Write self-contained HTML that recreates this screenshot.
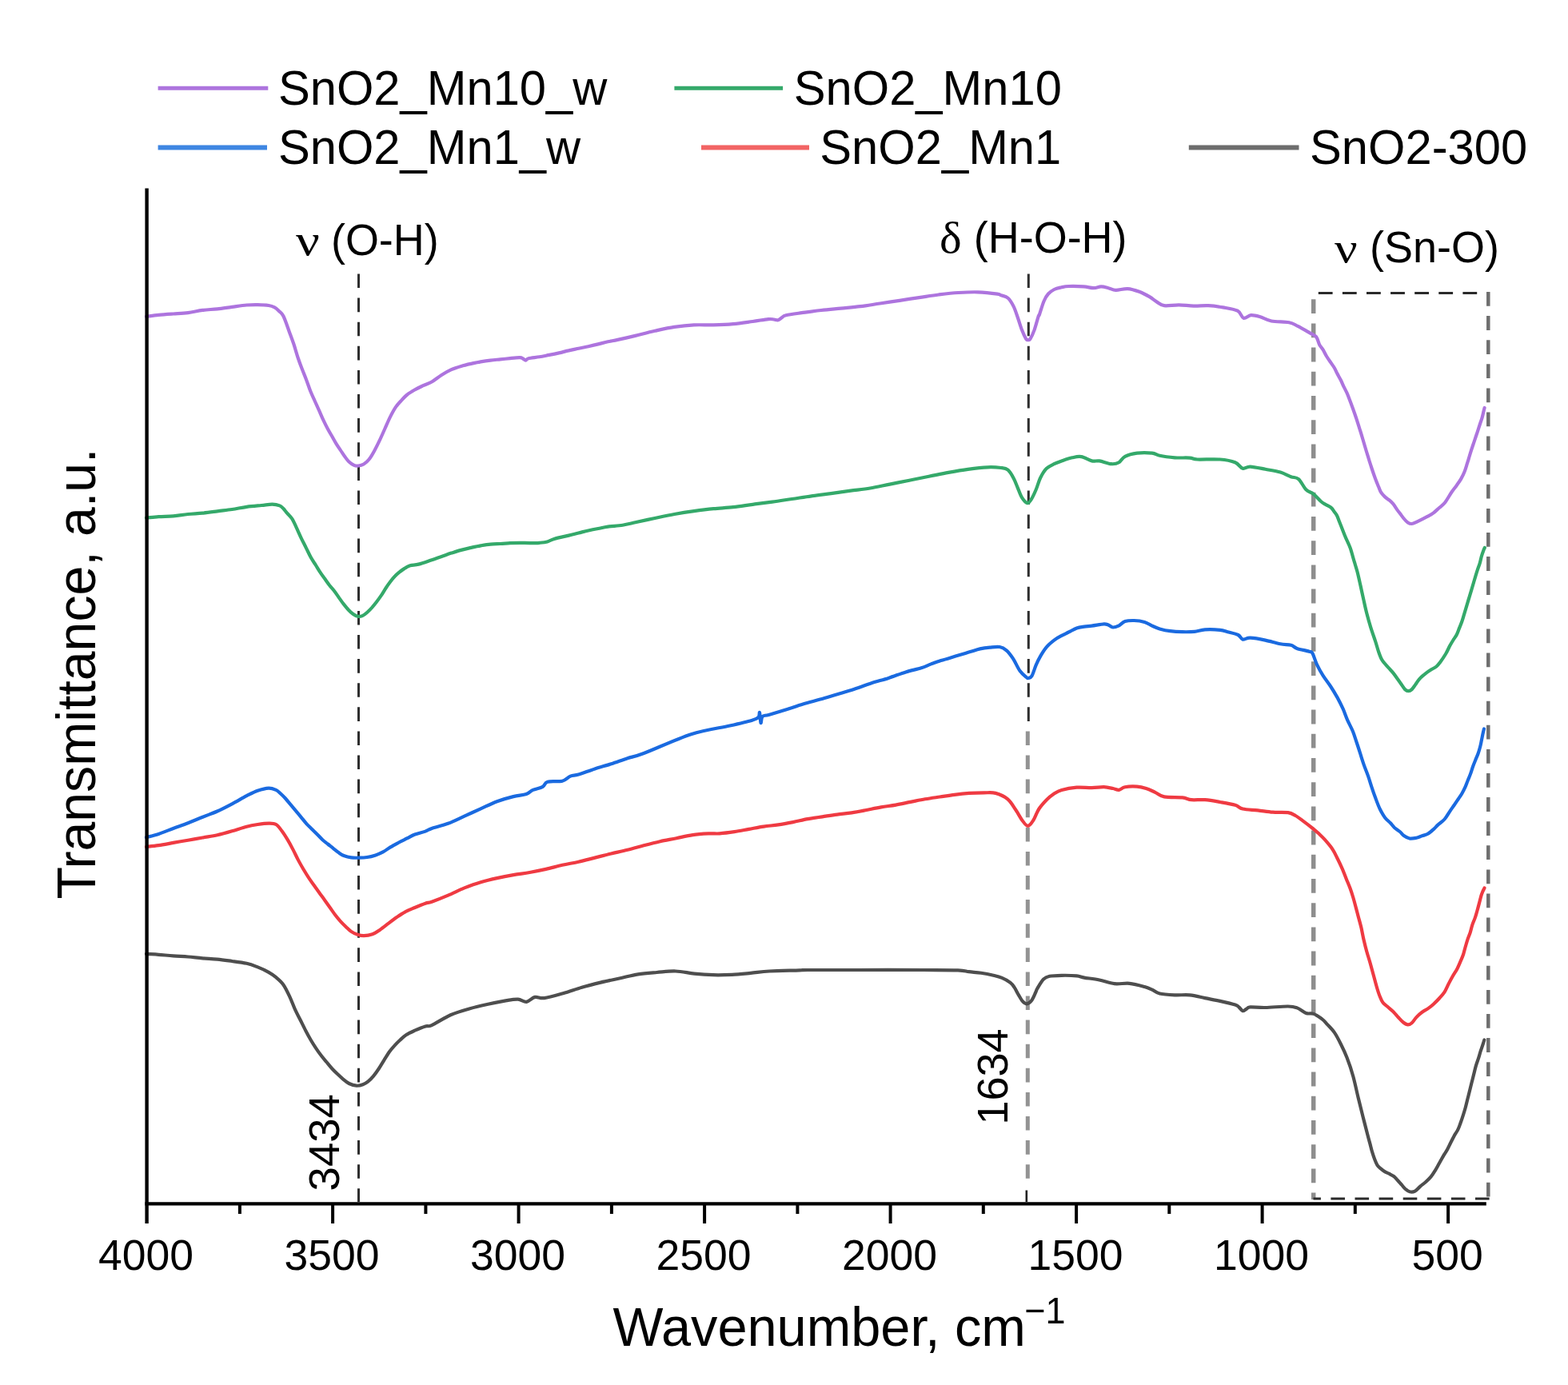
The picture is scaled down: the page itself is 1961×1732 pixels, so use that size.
<!DOCTYPE html>
<html><head><meta charset="utf-8"><title>FTIR spectra</title>
<style>
html,body{margin:0;padding:0;background:#fff;}
body{width:1961px;height:1732px;overflow:hidden;}
svg{display:block;}
text{font-family:"Liberation Sans",Arial,sans-serif;fill:#000;}
.gr{font-family:"Liberation Serif","Times New Roman",serif;}
</style></head><body>
<svg xmlns="http://www.w3.org/2000/svg" width="1961" height="1732" viewBox="0 0 1961 1732">
<rect width="1961" height="1732" fill="#fff"/>
<g stroke-linecap="butt">
<line x1="197.6" y1="110.3" x2="335.3" y2="110.3" stroke="#ad74de" stroke-width="5"/>
<line x1="843.4" y1="110.3" x2="979.1" y2="110.3" stroke="#34a96a" stroke-width="5"/>
<line x1="197.6" y1="184.5" x2="334" y2="184.5" stroke="#3e86e2" stroke-width="6"/>
<line x1="877" y1="184.5" x2="1012" y2="184.5" stroke="#f26464" stroke-width="6"/>
<line x1="1486.8" y1="184.5" x2="1624.5" y2="184.5" stroke="#6d6d6d" stroke-width="6"/>
</g>
<text transform="translate(347.9 131.2) scale(0.995 1.03)" font-size="60">SnO2_Mn10_w</text>
<text transform="translate(992.7 131.2) scale(0.995 1.03)" font-size="60">SnO2_Mn10</text>
<text transform="translate(347.9 204.6) scale(0.995 1.03)" font-size="60">SnO2_Mn1_w</text>
<text transform="translate(1025.3 204.6) scale(0.995 1.03)" font-size="60">SnO2_Mn1</text>
<text transform="translate(1638 204.6) scale(0.995 1.03)" font-size="60">SnO2-300</text>
<g fill="none" stroke="#2e2e2e" stroke-width="3" stroke-dasharray="17.6 12.5">
<line x1="448.5" y1="342.5" x2="448.5" y2="1503"/>
<line x1="1286.3" y1="342.5" x2="1286.3" y2="907"/>
</g>
<line x1="1285.3" y1="907" x2="1285.3" y2="1485" fill="none" stroke="#939393" stroke-width="5" stroke-dasharray="17.6 12.5" stroke-dashoffset="22.7"/>
<line x1="1283.8" y1="1488.5" x2="1283.8" y2="1503" stroke="#222" stroke-width="2.6"/>
<g fill="none" stroke-dasharray="17.8 12.3">
<line x1="1648.8" y1="366.4" x2="1862" y2="366.4" stroke="#2a2a2a" stroke-width="3"/>
<line x1="1642.7" y1="374.2" x2="1642.7" y2="1500" stroke="#8e8e8e" stroke-width="5.5" stroke-dasharray="17.8 12.4"/>
<line x1="1861.3" y1="365" x2="1861.3" y2="1500" stroke="#6e6e6e" stroke-width="4.5"/>
<line x1="1642.5" y1="1499" x2="1864" y2="1499" stroke="#2a2a2a" stroke-width="3" stroke-dasharray="17.6 12.5" stroke-dashoffset="8.2"/>
</g>
<g fill="none" stroke-width="4.2" stroke-linejoin="round" stroke-linecap="round">
<path stroke="#4e4e4e" d="M183 1192.9C185.6 1193.1 192.8 1193.4 198.4 1193.8C204 1194.2 210.6 1195 216.7 1195.4C222.8 1195.9 229 1196 235.1 1196.5C241.2 1197 247.3 1197.9 253.4 1198.4C259.5 1198.9 265.7 1199.1 271.8 1199.7C277.9 1200.3 284.1 1201.2 290.2 1202C296.3 1202.8 303.1 1203.6 308.5 1204.8C313.9 1206 317.7 1207.6 322.3 1209.4C326.9 1211.2 332.2 1213.7 336 1215.8C339.8 1217.9 342.1 1219.6 345.2 1222.2C348.3 1224.8 351.5 1227.4 354.4 1231.4C357.2 1235.4 359.9 1241.2 362.3 1246.3C364.7 1251.4 366.7 1257.3 368.9 1262.2C371.1 1267.1 373.4 1271.1 375.6 1275.5C377.8 1279.9 380 1284.5 382.2 1288.7C384.4 1292.9 386.6 1296.9 388.8 1300.7C391 1304.5 393.3 1308 395.5 1311.3C397.7 1314.6 399.9 1317.6 402.1 1320.5C404.3 1323.4 406.5 1325.8 408.7 1328.5C410.9 1331.2 413.2 1334.1 415.4 1336.5C417.6 1338.9 419.8 1341 422 1343.1C424.2 1345.2 426.2 1347.1 428.6 1349.1C431 1351.1 433.7 1353.6 436.6 1355C439.5 1356.4 442.9 1357.5 445.8 1357.7C448.7 1357.9 451.4 1357.2 453.8 1356.3C456.2 1355.4 458.2 1354.2 460.4 1352.4C462.6 1350.6 464.9 1348.4 467.1 1345.7C469.3 1343 471.5 1339.8 473.7 1336.5C475.9 1333.2 478.1 1329.3 480.3 1325.8C482.5 1322.2 484.8 1318.3 487 1315.2C489.2 1312.1 491.4 1309.7 493.6 1307.3C495.8 1304.9 497.8 1302.9 500.2 1300.7C502.6 1298.5 505.1 1296 508.2 1294C511.3 1292 514.8 1290.5 518.8 1288.7C522.8 1286.9 528.5 1284.5 532 1283.4C535.5 1282.3 534.8 1284.5 540 1282.1C545.2 1279.7 555.7 1272.6 563.5 1269.2C571.3 1265.8 579.1 1263.7 586.9 1261.5C594.7 1259.3 602.6 1257.5 610.4 1255.8C618.2 1254.1 627.5 1252.1 633.8 1251.1C640 1250.1 643.8 1249.4 647.9 1249.7C652 1250 655 1253.3 658.5 1252.8C662 1252.3 665.3 1247.7 669 1246.9C672.7 1246.1 674.8 1248.9 680.7 1248.1C686.6 1247.3 696.4 1244.4 704.2 1242.2C712 1240 719.9 1237 727.7 1234.7C735.5 1232.4 743.3 1230.5 751.1 1228.6C758.9 1226.7 766.8 1225.2 774.6 1223.5C782.4 1221.8 790.2 1219.5 798 1218.3C805.8 1217 813.7 1216.6 821.5 1216C829.3 1215.4 837.2 1214.2 845 1214.5C852.8 1214.8 860.6 1216.8 868.4 1217.6C876.2 1218.4 884.1 1219 891.9 1219.2C899.7 1219.4 907.5 1219.2 915.3 1218.8C923.1 1218.4 931 1217.6 938.8 1216.9C946.6 1216.2 952 1215.1 962.2 1214.5C972.4 1213.9 992.1 1213.7 1000 1213.4C1007.9 1213.2 997.4 1213.1 1009.8 1213C1022.2 1212.9 1050.2 1213 1074.5 1213C1098.8 1213 1134.7 1212.9 1155.3 1213C1175.9 1213.1 1188.6 1213 1198 1213.4C1207.4 1213.8 1207 1214.6 1211.8 1215.2C1216.6 1215.8 1222 1216 1227.1 1216.8C1232.2 1217.6 1238.1 1218.8 1242.4 1219.8C1246.7 1220.8 1249.6 1221.4 1253.1 1222.9C1256.6 1224.4 1261 1226.8 1263.6 1228.8C1266.2 1230.8 1267 1232.4 1268.7 1234.9C1270.4 1237.5 1272.1 1241.2 1273.8 1244.1C1275.5 1247 1277.2 1250.3 1278.9 1252.2C1280.6 1254.1 1282.1 1255.5 1284 1255.3C1285.9 1255.1 1288.2 1253.6 1290.1 1251.2C1292 1248.8 1294 1243.6 1295.2 1241C1296.4 1238.4 1295.8 1238.5 1297.5 1235.8C1299.2 1233 1302.6 1227 1305.1 1224.5C1307.6 1222 1308.8 1221.6 1312.6 1220.8C1316.4 1220 1322 1219.9 1327.7 1219.8C1333.4 1219.7 1341.9 1219.9 1346.6 1220.4C1351.3 1220.9 1351.3 1221.8 1356 1222.6C1360.7 1223.4 1368.6 1224.2 1374.9 1225.5C1381.2 1226.8 1387.5 1229.5 1393.8 1230.2C1400.1 1230.9 1406.3 1229.2 1412.6 1229.8C1418.9 1230.4 1426.8 1232.7 1431.5 1234C1436.2 1235.3 1437.8 1236.3 1440.9 1237.7C1444.1 1239.1 1445.7 1241.4 1450.4 1242.5C1455.1 1243.6 1462.9 1244 1469.2 1244.3C1475.5 1244.6 1481.8 1243.7 1488.1 1244.3C1494.4 1244.9 1500.7 1246.8 1507 1248.1C1513.3 1249.4 1519.5 1250.5 1525.8 1251.9C1532.1 1253.3 1540.8 1255.3 1544.7 1256.6C1548.7 1257.9 1547.9 1258.2 1549.5 1259.5C1551.1 1260.8 1552.7 1263.8 1554.2 1264.2C1555.7 1264.6 1556.9 1262.8 1558.5 1262C1560.1 1261.2 1559.6 1259.7 1563.6 1259.4C1567.6 1259.1 1574.6 1260.2 1582.5 1260C1590.4 1259.8 1604.2 1258.4 1610.8 1258.5C1617.4 1258.6 1618.3 1259 1622.1 1260.4C1625.9 1261.8 1630 1265.8 1633.4 1267C1636.9 1268.2 1639.5 1266.7 1642.8 1267.9C1646.1 1269.1 1650.5 1272.1 1653.4 1274.3C1656.3 1276.5 1657.4 1278.2 1660 1281.1C1662.6 1283.9 1666.2 1287.3 1669 1291.4C1671.8 1295.5 1674.2 1300.3 1676.8 1305.5C1679.4 1310.7 1681.9 1315.8 1684.5 1322.6C1687.1 1329.3 1690 1337.7 1692.3 1346C1694.6 1354.3 1696.5 1363.9 1698.6 1372.5C1700.7 1381.1 1702.8 1389.5 1704.8 1397.4C1706.8 1405.3 1709.2 1414.6 1710.6 1420C1712 1425.4 1712.4 1426.6 1713.3 1429.9C1714.2 1433.2 1714.9 1436.6 1715.9 1439.9C1716.9 1443.2 1718.1 1446.9 1719.2 1449.8C1720.3 1452.7 1721.3 1455.2 1722.5 1457.1C1723.7 1459 1725 1459.8 1726.5 1461.1C1728 1462.4 1730 1464 1731.8 1465.1C1733.6 1466.2 1735.2 1466.7 1737.1 1467.7C1739 1468.7 1741.3 1469.7 1743.1 1471C1744.9 1472.3 1746 1473.9 1747.7 1475.7C1749.4 1477.5 1751.3 1479.8 1753 1481.7C1754.7 1483.6 1756 1485.6 1757.7 1487C1759.4 1488.4 1761 1489.9 1763 1490.3C1765 1490.7 1767.4 1490.7 1769.6 1489.6C1771.8 1488.5 1774 1485.5 1776.2 1483.6C1778.4 1481.7 1780.7 1480.3 1782.9 1478.3C1785.1 1476.3 1787.5 1474.1 1789.5 1471.7C1791.5 1469.3 1793 1466.7 1794.8 1463.8C1796.6 1460.9 1798.2 1457.8 1800.1 1454.5C1802 1451.2 1804.4 1446.8 1806.1 1443.9C1807.8 1441 1808.8 1439.8 1810.2 1437.2C1811.6 1434.6 1813 1431.4 1814.5 1428.5C1816 1425.6 1817.5 1422.5 1818.9 1419.9C1820.4 1417.3 1821.9 1415.5 1823.2 1412.9C1824.5 1410.3 1825.4 1407.5 1826.6 1404.3C1827.8 1401.1 1829.1 1397.1 1830.1 1393.9C1831.1 1390.7 1831.8 1388.4 1832.7 1385.2C1833.6 1382 1834.4 1378.2 1835.3 1374.8C1836.2 1371.3 1837 1368 1837.9 1364.5C1838.8 1361 1839.6 1357.6 1840.5 1354.1C1841.4 1350.6 1842.2 1347.2 1843.1 1343.7C1844 1340.2 1844.7 1336.8 1845.7 1333.3C1846.7 1329.8 1848.2 1326.1 1849.2 1322.9C1850.2 1319.7 1850.9 1316.9 1851.8 1314.2C1852.7 1311.5 1853.7 1308.8 1854.4 1306.5C1855.2 1304.2 1856 1301.5 1856.3 1300.5"/>
<path stroke="#ef3a42" d="M183 1059C185.6 1058.7 192.8 1058 198.4 1057.2C204 1056.4 210.6 1055 216.7 1053.9C222.8 1052.8 229 1051.8 235.1 1050.7C241.2 1049.6 247.3 1048.6 253.4 1047.5C259.5 1046.4 265.7 1045.7 271.8 1044.3C277.9 1042.9 284.1 1041.1 290.2 1039.3C296.3 1037.5 303.1 1035.1 308.5 1033.7C313.9 1032.3 317.7 1031.7 322.3 1031C326.9 1030.3 332.2 1029.6 336 1029.6C339.8 1029.6 342.4 1029.4 345.2 1031C348 1032.6 350.2 1036.1 352.6 1039.3C355 1042.5 357.4 1046.4 359.7 1050.2C362 1054 364.1 1057.9 366.3 1062.1C368.5 1066.3 370.7 1071.2 372.9 1075.4C375.1 1079.6 377.4 1083.5 379.6 1087.3C381.8 1091 384 1094.6 386.2 1097.9C388.4 1101.2 390.6 1104.1 392.8 1107.2C395 1110.3 397.2 1113.4 399.4 1116.5C401.6 1119.6 403.9 1122.6 406.1 1125.7C408.3 1128.8 410.5 1131.9 412.7 1135C414.9 1138.1 417.1 1141.4 419.3 1144.3C421.5 1147.2 423.8 1149.9 426 1152.3C428.2 1154.7 430.4 1156.8 432.6 1158.9C434.8 1161 436.8 1163.2 439.2 1164.9C441.6 1166.6 444.5 1167.9 447.2 1168.8C449.9 1169.7 452 1170.3 455.1 1170.2C458.2 1170.1 462.4 1169.4 465.7 1168.2C469 1167 471.7 1165.1 475 1162.9C478.3 1160.7 482.1 1157.6 485.6 1154.9C489.1 1152.2 492.7 1149.4 496.2 1147C499.7 1144.6 503 1142.3 506.8 1140.3C510.6 1138.3 514.6 1136.8 518.8 1135C523 1133.2 528.5 1130.9 532 1129.7C535.5 1128.5 535.3 1129.4 540 1127.7C544.7 1126 553.6 1122.5 560.4 1119.6C567.2 1116.7 574 1113.1 580.8 1110.4C587.6 1107.7 594.4 1105.2 601.2 1103.2C608 1101.2 614.8 1099.6 621.6 1098.1C628.4 1096.6 635.2 1095.3 642 1094.1C648.8 1092.9 655.6 1092.2 662.4 1091C669.2 1089.8 676 1088.4 682.8 1086.9C689.6 1085.4 696.4 1083.3 703.2 1081.8C710 1080.3 716.8 1079.2 723.6 1077.7C730.4 1076.2 737.2 1074.3 744 1072.6C750.8 1070.9 757.6 1069.1 764.4 1067.5C771.2 1065.9 778 1064.5 784.8 1062.8C791.6 1061.1 798.4 1059.1 805.2 1057.3C812 1055.5 818.8 1053.7 825.6 1052.2C832.4 1050.7 839.2 1049.6 846 1048.2C852.8 1046.8 859.6 1045.1 866.4 1044.1C873.2 1043.1 881.2 1042.7 886.8 1042.4C892.4 1042.1 894.7 1042.8 900 1042.4C905.3 1042 912.3 1041.1 918.4 1040.2C924.5 1039.3 930.6 1038 936.7 1036.9C942.8 1035.8 949 1034.5 955.1 1033.6C961.2 1032.7 967.3 1032.3 973.4 1031.4C979.5 1030.5 985.7 1029.3 991.8 1028.1C997.9 1026.9 1004.1 1025.2 1010.2 1024.1C1016.3 1023 1022.4 1022.2 1028.5 1021.3C1034.6 1020.4 1040.8 1019.4 1046.9 1018.6C1053 1017.8 1059.1 1017.3 1065.2 1016.4C1071.3 1015.5 1077.5 1014.2 1083.6 1013C1089.7 1011.8 1095.8 1010.5 1101.9 1009.4C1108 1008.3 1114.2 1007.7 1120.3 1006.6C1126.4 1005.5 1132.6 1004.1 1138.7 1002.9C1144.8 1001.7 1150.9 1000.4 1157 999.3C1163.1 998.2 1169.3 997.4 1175.4 996.5C1181.5 995.6 1187.6 994.6 1193.7 993.8C1199.8 993 1206 992.3 1212.1 991.9C1218.2 991.5 1225 991.4 1230.5 991.4C1236 991.4 1240.1 990.6 1245.1 991.9C1250.1 993.2 1256.1 995.9 1260.3 999.4C1264.5 1002.9 1267.2 1008.3 1270.3 1012.8C1273.4 1017.3 1276.2 1022.9 1278.7 1026.2C1281.2 1029.6 1283.2 1032.9 1285.4 1032.9C1287.6 1032.9 1289.8 1029.8 1292.1 1026.2C1294.4 1022.6 1296.6 1015.8 1299.4 1011.5C1302.2 1007.2 1305.8 1003.4 1308.9 1000.2C1312.1 997.1 1315.2 994.7 1318.3 992.6C1321.4 990.5 1323 989.2 1327.7 987.9C1332.4 986.6 1340.3 985.2 1346.6 984.7C1352.9 984.2 1359.8 985.2 1365.5 985.1C1371.2 985 1376.2 984.1 1380.6 984.2C1385 984.4 1388.8 985.4 1391.9 986C1395 986.6 1396.9 988.2 1399.4 987.9C1401.9 987.6 1403.2 984.9 1407 984.2C1410.8 983.5 1417.7 983.3 1422.1 983.6C1426.5 983.9 1429.6 984.8 1433.4 986C1437.2 987.2 1440.9 989.1 1444.7 990.8C1448.5 992.5 1450.3 995.3 1456 996.4C1461.7 997.5 1473 996.8 1478.7 997.4C1484.4 998 1485.3 999.7 1490 1000.2C1494.7 1000.7 1501 999.7 1507 1000.2C1513 1000.7 1519.5 1001.9 1525.8 1003C1532.1 1004.1 1540 1005.4 1544.7 1006.8C1549.4 1008.2 1549.5 1010.4 1554.2 1011.5C1558.9 1012.6 1566.7 1012.7 1573 1013.4C1579.3 1014.1 1585.6 1015.2 1591.9 1015.7C1598.2 1016.2 1606.1 1015.5 1610.8 1016.2C1615.5 1016.9 1617.1 1018.3 1620.2 1020C1623.3 1021.7 1625.9 1023.8 1629.6 1026.6C1633.3 1029.3 1639.2 1033.9 1642.4 1036.5C1645.6 1039.1 1646.5 1039.8 1648.9 1042.1C1651.3 1044.4 1654 1046.8 1657 1050.2C1660 1053.6 1664 1058.2 1666.7 1062.3C1669.4 1066.3 1671.1 1070.5 1673.1 1074.5C1675.1 1078.5 1677 1082.6 1678.8 1086.6C1680.5 1090.6 1682 1094.7 1683.6 1098.7C1685.2 1102.7 1687 1106.8 1688.5 1110.8C1690 1114.8 1691.3 1119 1692.5 1123C1693.7 1127 1694.7 1131.1 1695.8 1135.1C1696.9 1139.1 1697.9 1143.1 1699 1147.2C1700.1 1151.3 1701.2 1155 1702.3 1159.6C1703.4 1164.2 1704.3 1169.9 1705.5 1175C1706.7 1180.1 1707.9 1185 1709.3 1190C1710.7 1195 1712.4 1200 1713.8 1205C1715.2 1210 1716.5 1215 1717.9 1220C1719.3 1225 1720.7 1230.6 1722 1235C1723.3 1239.4 1724.5 1243.2 1725.8 1246.3C1727 1249.4 1727.9 1251.7 1729.5 1253.8C1731.1 1255.9 1733.4 1257.1 1735.5 1259C1737.6 1260.9 1740 1262.8 1742.3 1265C1744.5 1267.2 1746.9 1270.2 1749 1272.5C1751.1 1274.8 1753 1277 1755 1278.5C1757 1280 1758.9 1281.3 1760.7 1281.4C1762.5 1281.5 1763.9 1280.8 1765.7 1279.2C1767.5 1277.7 1769.3 1274.3 1771.4 1272.1C1773.5 1269.8 1776.1 1267.5 1778.5 1265.7C1780.9 1263.9 1783.3 1263.1 1785.7 1261.4C1788.1 1259.7 1790.4 1257.9 1792.8 1255.7C1795.2 1253.5 1797.7 1251.1 1800 1248.5C1802.3 1245.9 1804.7 1243.4 1806.7 1240.3C1808.7 1237.2 1810.2 1233.2 1811.9 1229.9C1813.6 1226.6 1815.4 1223.3 1817.1 1220.3C1818.8 1217.3 1820.7 1214.7 1822.3 1211.7C1823.9 1208.7 1825.3 1205.2 1826.6 1202.2C1827.9 1199.2 1829.1 1196.5 1830.1 1193.5C1831.1 1190.5 1831.8 1187 1832.7 1184C1833.6 1181 1834.3 1178.3 1835.3 1175.3C1836.3 1172.3 1837.8 1169 1838.8 1165.8C1839.8 1162.6 1840.4 1159.3 1841.4 1156.3C1842.4 1153.3 1843.8 1150.5 1844.8 1147.6C1845.8 1144.7 1846.5 1142 1847.4 1139C1848.3 1136 1849.2 1132.4 1850 1129.4C1850.8 1126.4 1851.5 1123.2 1852.2 1120.8C1852.9 1118.3 1853.7 1116.4 1854.4 1114.7C1855.1 1113 1856.2 1111.2 1856.5 1110.5"/>
<path stroke="#1a6ae0" d="M183 1047.1C185.6 1046.4 192.8 1044.8 198.4 1042.9C204 1041.1 210.6 1038.3 216.7 1036C222.8 1033.7 229 1031.6 235.1 1029.2C241.2 1026.8 247.3 1024.2 253.4 1021.8C259.5 1019.3 265.7 1017.2 271.8 1014.5C277.9 1011.8 284.1 1008.5 290.2 1005.3C296.3 1002.1 303.1 998 308.5 995.2C313.9 992.5 317.7 990.4 322.3 988.8C326.9 987.2 332.2 985.8 336 985.6C339.8 985.5 342.7 986.8 345.2 987.9C347.7 989 349 990.7 351 992.5C353 994.3 354.9 996.2 357 998.5C359.1 1000.8 361.4 1003.8 363.6 1006.4C365.8 1009 368.1 1011.8 370.3 1014.4C372.5 1017 374.7 1019.6 376.9 1022.3C379.1 1025 381.3 1027.9 383.5 1030.3C385.7 1032.7 388 1034.7 390.2 1036.9C392.4 1039.1 394.6 1041.3 396.8 1043.5C399 1045.7 401.2 1048.2 403.4 1050.2C405.6 1052.2 407.8 1053.7 410 1055.5C412.2 1057.3 414.5 1059 416.7 1060.8C418.9 1062.6 421.1 1064.6 423.3 1066.1C425.5 1067.6 427.2 1069 429.9 1070C432.5 1071 436.1 1072 439.2 1072.4C442.3 1072.9 445.2 1072.8 448.5 1072.7C451.8 1072.6 455.6 1072.5 459.1 1072C462.6 1071.5 466.4 1070.5 469.7 1069.4C473 1068.3 475.9 1067.1 479 1065.4C482.1 1063.7 485 1061.4 488.3 1059.4C491.6 1057.4 495.4 1055.4 498.9 1053.5C502.4 1051.6 506.2 1049.9 509.5 1048.2C512.8 1046.5 515 1044.9 518.8 1043.5C522.5 1042.1 528.5 1040.9 532 1039.6C535.5 1038.3 535.3 1037.5 540 1035.9C544.7 1034.3 553.6 1032.3 560.4 1029.8C567.2 1027.2 574 1023.7 580.8 1020.6C587.6 1017.5 594.4 1014.5 601.2 1011.4C608 1008.3 614.8 1004.8 621.6 1002.2C628.4 999.7 635.9 997.6 642 996.1C648.1 994.6 654.2 994.4 658.3 993C662.4 991.6 663.1 989.4 666.5 987.9C669.9 986.4 675.7 985.6 678.7 983.9C681.8 982.2 680.7 978.9 684.8 977.7C688.9 976.5 698.4 977.9 703.2 976.7C708 975.5 710 972 713.4 970.6C716.8 969.2 718.5 970.1 723.6 968.6C728.7 967.1 737.2 963.6 744 961.4C750.8 959.2 757.6 957.5 764.4 955.3C771.2 953.1 778 950.4 784.8 948.2C791.6 946 792 947 805.2 942C818.5 937 846.4 924 864.3 918.2C882.2 912.5 900.2 910.4 912.8 907.5C925.4 904.6 934 902.6 940 900.9C946 899.1 946.8 898.6 948.5 897C950.2 895.4 949.5 889.8 950 891C950.5 892.2 950.9 903.2 951.5 904C952.1 904.8 951.9 897.7 953.5 896C955.1 894.3 956.5 895.3 961.4 893.9C966.3 892.5 975.6 889.7 982.8 887.5C989.9 885.3 997.1 882.6 1004.3 880.5C1011.4 878.4 1018.6 876.6 1025.7 874.6C1032.8 872.6 1040 870.3 1047.1 868.2C1054.2 866.1 1061.4 864.1 1068.5 861.8C1075.6 859.5 1082.8 856.6 1089.9 854.3C1097 852 1104.2 850.2 1111.3 847.9C1118.4 845.6 1126 842.5 1132.8 840.4C1139.6 838.3 1146.9 837 1152.2 835.3C1157.5 833.6 1160.4 831.9 1164.5 830.4C1168.6 828.9 1172.6 827.4 1176.7 826.1C1180.8 824.8 1184.9 823.6 1189 822.4C1193.1 821.2 1197.1 820 1201.2 818.8C1205.3 817.6 1209.3 816.3 1213.4 815.1C1217.5 813.9 1221.6 812.3 1225.7 811.4C1229.8 810.5 1233.8 810 1237.9 809.6C1242 809.2 1246.7 808.4 1250.2 809C1253.7 809.6 1255.9 810.9 1258.7 813.3C1261.5 815.7 1264.2 819.4 1267 823.6C1269.8 827.8 1272.6 834.8 1275.4 838.7C1278.2 842.6 1281.9 845.5 1283.7 847C1285.5 848.5 1284.9 848.3 1286 848C1287.1 847.7 1288.8 848.1 1290.4 845.4C1292 842.7 1293.9 835.9 1295.7 831.7C1297.5 827.5 1299.1 824.2 1301.3 820.4C1303.5 816.6 1306.1 812.4 1308.9 809.1C1311.7 805.8 1315.2 803 1318.3 800.6C1321.4 798.2 1324.5 796.6 1327.7 794.9C1330.9 793.2 1334.1 791.8 1337.2 790.2C1340.3 788.6 1343.5 786.6 1346.6 785.5C1349.7 784.4 1352.8 784.1 1356 783.6C1359.2 783.1 1361.4 783.1 1365.5 782.6C1369.6 782.1 1377.2 780.6 1380.6 780.4C1384 780.2 1384.1 780.8 1386 781.5C1387.9 782.2 1389.7 784.4 1391.9 784.5C1394.1 784.6 1396.9 783.5 1399.4 782.3C1401.9 781 1403.8 778 1407 777C1410.2 776 1414.2 775.9 1418.3 776C1422.4 776.1 1427.7 776.8 1431.5 777.9C1435.3 779 1437.8 781.2 1440.9 782.6C1444.1 784 1446.6 785.3 1450.4 786.4C1454.2 787.5 1458.9 788.6 1463.6 789.2C1468.3 789.8 1473.7 790.1 1478.7 790.2C1483.7 790.3 1489.1 790.3 1493.8 789.8C1498.5 789.3 1501.7 787.7 1507 787.4C1512.3 787.1 1521.1 787.4 1525.8 787.9C1530.5 788.4 1531.5 789.2 1535.3 790.2C1539.1 791.2 1545.3 792.4 1548.5 794C1551.7 795.6 1551.7 799 1554.2 799.6C1556.7 800.2 1558.9 797.5 1563.6 797.7C1568.3 797.9 1576.2 799.3 1582.5 800.6C1588.8 801.9 1596 804.3 1601.3 805.3C1606.6 806.3 1611 805.9 1614.5 806.8C1618 807.7 1618.3 809.6 1622.1 810.9C1625.9 812.2 1634 813.7 1637.2 814.7C1640.4 815.7 1639.8 814.2 1641.4 816.9C1643 819.6 1644.7 826.2 1646.9 830.8C1649.1 835.4 1651.6 840 1654.5 844.6C1657.4 849.2 1661.2 853.9 1664.2 858.5C1667.2 863.1 1670 867.8 1672.6 872.4C1675.1 877 1677.4 881.6 1679.5 886.2C1681.6 890.8 1682.9 895.4 1685 900.1C1687.1 904.8 1690 909.8 1691.9 914.5C1693.8 919.2 1695 923.6 1696.6 928.3C1698.2 933 1699.8 938 1701.3 942.7C1702.8 947.4 1704.2 952 1705.8 956.6C1707.4 961.2 1709.4 965.8 1711 970.4C1712.6 975 1714 979.7 1715.5 984.3C1717 988.9 1718.6 993.5 1720.3 998.1C1722 1002.7 1723.9 1008 1725.9 1012C1727.9 1016 1729.9 1019.5 1732.1 1022.4C1734.3 1025.3 1737 1027.2 1739 1029.3C1741 1031.4 1742 1033.2 1743.9 1035C1745.9 1036.8 1748.7 1038.3 1750.7 1040C1752.7 1041.7 1753.7 1043.6 1755.7 1045C1757.7 1046.4 1760.2 1048 1762.8 1048.5C1765.4 1049 1768.8 1048.3 1771.4 1047.8C1774 1047.3 1776.1 1046.1 1778.5 1045.3C1780.9 1044.5 1783.3 1044.2 1785.7 1042.8C1788.1 1041.4 1790.7 1039 1792.8 1037.1C1794.9 1035.2 1796.2 1033.5 1798.5 1031.4C1800.8 1029.3 1804.2 1027.3 1806.6 1024.5C1809 1021.7 1811.1 1017.8 1813.1 1014.8C1815.1 1011.8 1817 1009.2 1818.7 1006.7C1820.5 1004.2 1822 1001.9 1823.6 999.5C1825.2 997.1 1826.9 994.8 1828.4 992.2C1829.9 989.6 1831.3 986.8 1832.5 984.1C1833.7 981.4 1834.6 978.7 1835.7 976C1836.8 973.3 1837.9 970.9 1839 967.9C1840.1 964.9 1841.1 961.2 1842.2 958.2C1843.3 955.2 1844.3 952.8 1845.4 950.1C1846.5 947.4 1847.8 944.7 1848.7 942C1849.7 939.3 1850.4 936.5 1851.1 934C1851.8 931.5 1852.2 929.3 1852.7 926.7C1853.2 924.1 1853.8 921.1 1854.3 918.6C1854.8 916.1 1855.7 912.7 1856 911.5"/>
<path stroke="#34a96a" d="M183 647.6C185.6 647.4 192.8 646.6 198.4 646.2C204 645.8 210.6 645.8 216.7 645.3C222.8 644.8 229 643.6 235.1 643C241.2 642.4 247.3 642.2 253.4 641.6C259.5 641 265.7 640.1 271.8 639.3C277.9 638.5 284.1 637.9 290.2 637C296.3 636.1 302.4 634.6 308.5 633.8C314.6 633 321.5 632.5 326.9 632C332.2 631.5 336.8 630.5 340.6 630.6C344.4 630.7 347.5 631.5 349.8 632.4C352.1 633.3 352.9 634.6 354.4 636.1C355.9 637.6 357.2 639.5 359 641.6C360.8 643.7 363.2 645.6 365.2 648.7C367.2 651.8 369.1 656.3 371 660.4C372.9 664.5 374.9 669.2 376.9 673.3C378.9 677.4 380.9 681.2 382.8 685.1C384.8 689 386.7 693.3 388.6 696.8C390.6 700.3 392.5 703.1 394.5 706.2C396.5 709.3 398.4 712.7 400.4 715.6C402.3 718.5 404.2 721.1 406.2 723.8C408.1 726.5 410.1 729.5 412.1 732C414.1 734.5 416.1 736.5 418 739C419.9 741.5 421.9 744.5 423.8 747.2C425.8 749.9 427.7 752.9 429.7 755.4C431.7 757.9 433.7 760.4 435.6 762.5C437.6 764.6 439.4 766.4 441.4 767.8C443.3 769.2 445.3 770.3 447.3 770.7C449.3 771.1 451.2 770.9 453.2 770.1C455.1 769.3 457.1 767.7 459 766C460.9 764.3 462.9 762.2 464.9 760.1C466.8 758 468.8 755.6 470.7 753.1C472.6 750.6 474.6 747.8 476.6 744.9C478.6 742 480.6 738.4 482.5 735.5C484.4 732.6 486.4 729.8 488.3 727.3C490.2 724.8 492.2 722.3 494.2 720.3C496.2 718.2 498.2 716.6 500.1 715C502.1 713.4 503.8 712.2 505.9 710.9C508 709.6 510.1 708.2 513 707.3C515.9 706.4 519 706.8 523.5 705.6C528 704.4 535.2 701.8 540 700.2C544.8 698.6 548.1 697.3 552.2 695.9C556.3 694.5 560.4 692.9 564.5 691.6C568.6 690.3 572.6 689 576.7 687.9C580.8 686.8 584.9 685.8 589 684.9C593.1 684 597.1 683.1 601.2 682.4C605.3 681.7 609.3 681 613.4 680.6C617.5 680.2 621.6 680.2 625.7 680C629.8 679.8 633.8 679.3 637.9 679.1C642 678.9 646 678.8 650.1 678.8C654.2 678.8 658.3 679.1 662.4 679.1C666.5 679.1 670.9 679.1 674.6 678.8C678.3 678.5 681.3 678.3 684.4 677.5C687.5 676.7 688.5 675.2 693 673.9C697.5 672.6 706.2 670.8 711.3 669.6C716.4 668.4 719.5 667.5 723.6 666.5C727.7 665.5 731.7 664.4 735.8 663.5C739.9 662.6 743.9 661.8 748 661C752.1 660.2 755.2 659.3 760.3 658.6C765.4 657.9 772.9 657.6 778.6 656.7C784.3 655.8 787.8 654.8 794.5 653.3C801.2 651.8 810.9 649.7 819 648C827.1 646.3 835.2 644.5 843.4 643C851.5 641.5 859.7 640.2 867.9 639.1C876.1 638 884.2 637 892.4 636.2C900.6 635.4 908.7 635.1 916.9 634.2C925.1 633.3 933.2 631.9 941.4 630.8C949.5 629.7 957.6 628.7 965.8 627.6C973.9 626.5 982.1 625.2 990.3 624C998.5 622.8 1006.6 621.4 1014.8 620.3C1023 619.1 1031.1 618.2 1039.3 617.1C1047.5 616 1055.6 614.8 1063.8 613.7C1072 612.6 1080 611.9 1088.2 610.5C1096.4 609.1 1104.5 607.2 1112.7 605.6C1120.9 604 1129 602.3 1137.2 600.7C1145.4 599.1 1153.6 597.4 1161.7 595.8C1169.8 594.2 1177.9 592.4 1186.1 590.9C1194.2 589.4 1202.4 587.9 1210.6 586.8C1218.8 585.7 1228.2 584.6 1235.1 584.3C1242 584 1247.8 584.5 1252 585C1256.2 585.5 1258 585.5 1260.6 587.6C1263.2 589.8 1265.6 594.1 1267.6 597.9C1269.6 601.6 1271.1 606 1272.8 610.1C1274.5 614.2 1276 619 1278 622.2C1280 625.4 1282.9 628.8 1284.9 629.1C1286.9 629.4 1288.3 626.7 1290.1 623.9C1291.9 621.1 1293.8 616.8 1295.7 612.3C1297.6 607.8 1299.1 601.6 1301.3 597.2C1303.5 592.8 1306.1 588.6 1308.9 585.8C1311.7 583 1315.2 581.8 1318.3 580.2C1321.4 578.6 1323.9 577.7 1327.7 576.4C1331.5 575.1 1336.8 573.2 1340.9 572.3C1345 571.4 1348.2 570.4 1352.3 571.1C1356.4 571.8 1361.7 575.5 1365.5 576.4C1369.3 577.3 1370.8 575.8 1374.9 576.4C1379 577 1385.9 579.9 1390 580.2C1394.1 580.5 1396.6 579.9 1399.4 578.3C1402.2 576.7 1403.2 572.8 1407 570.8C1410.8 568.8 1416.4 567.3 1422.1 566.6C1427.8 565.9 1436.2 566.1 1440.9 566.6C1445.6 567.1 1445.7 568.8 1450.4 569.8C1455.1 570.8 1462.9 571.8 1469.2 572.3C1475.5 572.8 1483.4 572.2 1488.1 572.6C1492.8 573 1491.2 574.2 1497.5 574.5C1503.8 574.8 1517.9 573.9 1525.8 574.5C1533.7 575.1 1540 576.4 1544.7 578.3C1549.4 580.2 1551.1 584.9 1554.2 585.8C1557.3 586.7 1558.9 583.4 1563.6 583.6C1568.3 583.8 1576.2 585.6 1582.5 586.8C1588.8 588 1596 589 1601.3 590.6C1606.6 592.2 1610.7 594.8 1614.5 596.2C1618.3 597.6 1620.8 596.4 1624 599.1C1627.2 601.8 1630.3 609.2 1633.4 612.3C1636.5 615.4 1639.7 615.4 1642.8 617.9C1645.9 620.4 1649.5 624.8 1652 627C1654.5 629.2 1655.9 629.7 1658 631C1660.1 632.3 1663 633.4 1664.8 634.9C1666.6 636.4 1667.5 638.4 1668.7 640C1669.9 641.6 1670.9 642.7 1671.9 644.6C1672.9 646.5 1673.8 649.2 1674.7 651.5C1675.6 653.8 1676.6 656.2 1677.5 658.5C1678.4 660.8 1679.3 663.1 1680.2 665.4C1681.1 667.7 1682 670 1683 672.3C1684 674.6 1685.2 677 1686.2 679.3C1687.2 681.6 1688.1 683.5 1689 686.2C1689.9 688.9 1690.9 692.5 1691.8 695.7C1692.7 698.9 1693.6 702 1694.6 705.2C1695.5 708.4 1696.3 710.5 1697.5 715C1698.7 719.5 1700.2 726.5 1701.5 732.3C1702.8 738.1 1704 743.8 1705.3 749.6C1706.6 755.4 1707.8 761.2 1709.3 767C1710.8 772.8 1712.4 778.5 1714.2 784.3C1716 790.1 1718.3 796.5 1720 801.6C1721.7 806.7 1722.8 811.2 1724.1 815C1725.4 818.8 1726.5 821.8 1727.8 824.3C1729.1 826.8 1730.5 828.1 1732.1 830C1733.6 831.9 1735.3 833.7 1737.1 835.7C1738.9 837.7 1740.9 839.7 1742.8 842.1C1744.7 844.5 1746.7 847.5 1748.5 850C1750.3 852.5 1752.1 855.1 1753.5 857.1C1754.9 859.1 1755.8 860.9 1757.1 862.1C1758.4 863.3 1760 864.2 1761.4 864.2C1762.8 864.2 1764.3 863.4 1765.7 862.1C1767.1 860.8 1768.5 858.5 1770 856.4C1771.5 854.3 1773 851.6 1775 849.3C1777 847 1779.7 844.7 1782.1 842.8C1784.5 840.9 1786.8 839.3 1789.2 837.8C1791.6 836.2 1794.4 835.2 1796.4 833.5C1798.4 831.8 1799.4 830.5 1801.4 827.8C1803.4 825.1 1806.2 820.8 1808.2 817.5C1810.2 814.2 1811.5 810.8 1813.1 807.8C1814.7 804.8 1816.4 802.1 1817.9 799.7C1819.4 797.3 1820.8 795.6 1822 793.2C1823.2 790.8 1824.1 787.8 1825.2 785.1C1826.3 782.4 1827.5 779.7 1828.4 777C1829.4 774.3 1830.1 771.6 1830.9 768.9C1831.7 766.2 1832.5 763.6 1833.3 760.9C1834.1 758.2 1834.9 755.5 1835.7 752.8C1836.5 750.1 1837.4 747.4 1838.2 744.7C1839 742 1839.8 739.3 1840.6 736.6C1841.4 733.9 1842.2 731.2 1843 728.5C1843.8 725.8 1844.6 723.1 1845.4 720.4C1846.2 717.7 1847 715 1847.9 712.3C1848.8 709.6 1849.9 707 1850.7 704.3C1851.5 701.6 1852 698.8 1852.7 696.2C1853.4 693.6 1854.4 690.8 1855.1 688.9C1855.8 687 1856.5 685.6 1856.8 685"/>
<path stroke="#ad74de" d="M183 395.8C185.6 395.5 192.8 394.4 198.4 393.9C204 393.3 210.6 392.9 216.7 392.5C222.8 392.1 229 392 235.1 391.2C241.2 390.4 247.3 388.7 253.4 387.9C259.5 387.1 265.7 387 271.8 386.3C277.9 385.6 284.1 384.6 290.2 383.8C296.3 383 303.1 381.9 308.5 381.5C313.9 381.1 317.7 381 322.3 381.1C326.9 381.2 332.5 381.5 336 382C339.5 382.5 341.2 383.2 343.4 384.3C345.5 385.4 347.1 387.1 348.9 388.9C350.7 390.7 352.2 390.9 354.4 395.3C356.6 399.7 359.8 409.4 361.9 415.2C364 420.9 365.4 424.5 367.2 429.8C369 435.1 370.7 441.7 372.5 447C374.3 452.3 376 457 377.8 461.6C379.6 466.2 381.3 470.2 383.1 474.9C384.9 479.5 386.6 485.1 388.4 489.5C390.2 493.9 391.9 497.5 393.7 501.5C395.5 505.5 397.3 509.4 399.1 513.4C400.9 517.4 402.6 521.6 404.4 525.4C406.2 529.2 407.9 532.7 409.7 536C411.5 539.3 413.2 542.2 415 545.3C416.8 548.4 418.5 551.7 420.3 554.6C422.1 557.5 423.8 560 425.6 562.6C427.4 565.2 429.1 568.1 430.9 570.5C432.7 572.9 434.2 575.3 436.2 577.2C438.2 579.1 440.9 580.9 442.9 581.8C444.9 582.7 446.2 582.7 448.2 582.5C450.2 582.3 452.6 581.8 454.8 580.5C457 579.2 459.3 577.3 461.5 574.5C463.7 571.7 465.9 567.9 468.1 563.9C470.3 559.9 472.6 555.2 474.8 550.6C477 546 479.2 540.9 481.4 536C483.6 531.1 485.8 525.8 488 521.4C490.2 517 492.5 512.7 494.7 509.4C496.9 506.1 498.9 504.1 501.3 501.5C503.7 498.9 506.4 495.8 509.3 493.5C512.2 491.2 515.3 489.4 518.6 487.5C521.9 485.6 525.6 483.9 529.2 482.2C532.8 480.5 536.2 479.7 540 477.5C543.8 475.3 548.1 471.6 552.2 469C556.3 466.4 560.4 464.1 564.5 462.2C568.6 460.3 572.6 459.1 576.7 457.9C580.8 456.7 584.9 455.8 589 454.9C593.1 454 597.1 453.1 601.2 452.4C605.3 451.7 609.3 451.1 613.4 450.6C617.5 450.1 621.6 449.8 625.7 449.4C629.8 449 633.8 448.5 637.9 448.1C642 447.7 647.4 447.1 650.1 447.2C652.8 447.3 652.8 447.9 654 448.5C655.2 449.1 656.3 450.7 657.5 450.6C658.7 450.6 658.1 448.9 661 448.2C663.9 447.5 670.3 447 674.6 446.3C678.9 445.6 682.8 444.7 686.9 443.9C691 443.1 695 442.3 699.1 441.4C703.2 440.5 707.2 439.3 711.3 438.4C715.4 437.4 719.5 436.6 723.6 435.7C727.7 434.8 731.7 434.1 735.8 433.2C739.9 432.3 743.9 431.4 748 430.4C752.1 429.4 756.2 428.2 760.3 427.3C764.4 426.4 766.8 426.1 772.5 424.9C778.2 423.7 786.8 421.8 794.5 419.9C802.2 418 810.9 415.6 819 413.8C827.1 412 835.2 410.1 843.4 408.9C851.5 407.7 859.7 406.8 867.9 406.4C876.1 406 884.2 406.6 892.4 406.4C900.6 406.2 908.7 405.9 916.9 405.2C925.1 404.5 934.1 403 941.4 402C948.7 401 956.5 399.5 960.9 399.1C965.3 398.7 966 399.3 968 399.5C970 399.7 971.5 400.7 973.2 400.3C974.9 399.9 976.4 398 978 397C979.6 396 978.9 395.2 983 394.2C987.1 393.2 995.3 392.2 1002.6 391.2C1009.9 390.2 1018.9 388.9 1027 388C1035.2 387.1 1043.3 386.4 1051.5 385.6C1059.7 384.8 1067.8 384.2 1076 383.2C1084.2 382.2 1092.3 380.7 1100.5 379.5C1108.7 378.3 1116.8 377 1125 375.8C1133.2 374.6 1141.2 373.3 1149.4 372.1C1157.6 370.9 1165.7 369.5 1173.9 368.5C1182.1 367.5 1190.2 366.5 1198.4 366C1206.6 365.5 1214.7 365 1222.9 365.3C1231.1 365.6 1242.6 367 1247.4 367.7C1252.2 368.4 1249.8 368.5 1252 369.3C1254.2 370.1 1258 370.4 1260.6 372.7C1263.2 375 1265.6 379.1 1267.6 383.1C1269.6 387.2 1271.1 392.1 1272.8 397C1274.5 401.9 1276.3 408.1 1278 412.6C1279.7 417.1 1281.9 421.7 1283.2 423.8C1284.5 425.9 1284.9 425 1285.8 425C1286.7 425 1287.1 425.9 1288.4 423.8C1289.7 421.7 1291.9 417.4 1293.6 412.6C1295.3 407.8 1297.7 398.4 1298.8 395.2C1299.9 392 1298.9 396.3 1300 393.2C1301.1 390.1 1303.7 381 1305.5 376.7C1307.3 372.4 1308.8 369.9 1311 367.5C1313.2 365.1 1315.7 363.4 1318.4 362C1321.2 360.6 1324.5 360 1327.5 359.3C1330.5 358.6 1332.1 358.1 1336.7 358C1341.3 357.9 1349.9 358 1355.1 358.4C1360.3 358.8 1364.2 360.2 1367.9 360.2C1371.6 360.2 1374 358.4 1377.1 358.4C1380.2 358.4 1383.2 359.4 1386.3 360.2C1389.4 360.9 1391.5 362.8 1395.5 362.9C1399.5 363 1405.3 360.8 1410.2 361.1C1415.1 361.4 1420.2 363.1 1424.8 364.8C1429.4 366.5 1434 369.1 1437.7 371.2C1441.4 373.3 1443.9 375.8 1446.9 377.6C1450 379.4 1451.4 381.6 1456 382.2C1460.6 382.8 1468.3 381.2 1474.4 381.3C1480.5 381.4 1486.7 382.5 1492.8 382.6C1498.9 382.8 1505 381.9 1511.1 382.2C1517.2 382.5 1523.4 383.3 1529.5 384.4C1535.6 385.5 1543.5 386.5 1547.8 388.7C1552.1 390.9 1552.4 396.9 1555.2 397.8C1558 398.7 1561 394.5 1564.4 394.2C1567.8 393.9 1571.1 394.8 1575.4 396C1579.7 397.2 1584 400.3 1590.1 401.5C1596.2 402.7 1606.6 402.2 1612.1 403.3C1617.6 404.4 1618.5 405.6 1623.1 407.9C1627.7 410.2 1635.7 414.9 1639.6 417.1C1643.5 419.4 1644.5 419.1 1646.3 421.4C1648 423.7 1648.7 428.3 1650.1 430.9C1651.5 433.5 1653 434.8 1654.5 437.2C1656 439.6 1657.4 442.9 1659 445.5C1660.6 448.1 1662.5 450.8 1664.1 453.1C1665.7 455.4 1667.1 457.2 1668.5 459.5C1669.9 461.8 1670.9 464.5 1672.3 467.1C1673.7 469.7 1675.4 472.6 1676.8 475.3C1678.2 478.1 1679.3 481 1680.6 483.6C1681.9 486.2 1683.1 488.4 1684.4 491.2C1685.7 494 1686.9 497.4 1688.2 500.7C1689.5 504 1690.7 507.4 1692 511C1693.3 514.6 1694.7 518.5 1696 522.5C1697.3 526.5 1698.7 530.8 1700 535C1701.3 539.2 1702.7 543.6 1704 548C1705.3 552.4 1706.7 557.1 1708 561.5C1709.3 565.9 1710.7 570.2 1712 574.5C1713.3 578.8 1714.7 583 1716 587C1717.3 591 1718.7 594.9 1720 598.5C1721.3 602.1 1722.8 605.6 1724 608.5C1725.2 611.4 1725.8 613.6 1727.1 615.7C1728.4 617.9 1730.3 619.7 1732.1 621.4C1733.9 623.1 1736 624.2 1737.8 625.7C1739.6 627.2 1741.2 628.8 1742.8 630.7C1744.3 632.6 1745.7 635.1 1747.1 637.1C1748.5 639.1 1750 640.9 1751.4 642.8C1752.8 644.7 1754.2 646.7 1755.7 648.5C1757.2 650.3 1759 652.4 1760.7 653.5C1762.4 654.6 1763.9 655.1 1765.7 655C1767.5 654.9 1769.3 653.8 1771.4 652.8C1773.5 651.8 1776.1 650.5 1778.5 649.3C1780.9 648.1 1783.3 647 1785.7 645.7C1788.1 644.4 1790.4 643.2 1792.8 641.4C1795.2 639.6 1797.6 637.1 1800 635C1802.4 632.9 1804.5 631.8 1807.1 628.5C1809.7 625.2 1813 619 1815.4 615.5C1817.8 612 1819.6 610 1821.6 607.2C1823.6 604.4 1825.6 601.7 1827.2 598.9C1828.8 596.1 1830.2 593.4 1831.3 590.6C1832.4 587.8 1833.2 585.2 1834.1 582.3C1835 579.4 1836 576.3 1836.9 573.3C1837.8 570.3 1838.7 567.2 1839.6 564.3C1840.5 561.4 1841.5 558.8 1842.4 556C1843.3 553.2 1844.3 550.5 1845.2 547.7C1846.1 544.9 1847.1 542.1 1848 539.3C1848.9 536.5 1849.8 533.8 1850.7 531C1851.6 528.2 1852.7 525.5 1853.5 522.7C1854.3 519.9 1855.1 516.1 1855.6 514C1856.1 511.9 1856.4 510.7 1856.6 510"/>
</g>
<g stroke="#000" stroke-linecap="butt">
<line x1="183.6" y1="235.5" x2="183.6" y2="1530" stroke-width="4.4"/>
<line x1="181.4" y1="1505.4" x2="1858.8" y2="1505.4" stroke-width="4.2"/>
<line x1="299.9" y1="1505" x2="299.9" y2="1518" stroke-width="4"/>
<line x1="416.1" y1="1505" x2="416.1" y2="1530" stroke-width="4"/>
<line x1="532.4" y1="1505" x2="532.4" y2="1518" stroke-width="4"/>
<line x1="648.6" y1="1505" x2="648.6" y2="1530" stroke-width="4"/>
<line x1="764.9" y1="1505" x2="764.9" y2="1518" stroke-width="4"/>
<line x1="881.1" y1="1505" x2="881.1" y2="1530" stroke-width="4"/>
<line x1="997.4" y1="1505" x2="997.4" y2="1518" stroke-width="4"/>
<line x1="1113.6" y1="1505" x2="1113.6" y2="1530" stroke-width="4"/>
<line x1="1229.8" y1="1505" x2="1229.8" y2="1518" stroke-width="4"/>
<line x1="1346.1" y1="1505" x2="1346.1" y2="1530" stroke-width="4"/>
<line x1="1462.3" y1="1505" x2="1462.3" y2="1518" stroke-width="4"/>
<line x1="1578.6" y1="1505" x2="1578.6" y2="1530" stroke-width="4"/>
<line x1="1694.8" y1="1505" x2="1694.8" y2="1518" stroke-width="4"/>
<line x1="1811.1" y1="1505" x2="1811.1" y2="1530" stroke-width="4"/>
</g>
<text transform="translate(182.6 1588.2)" font-size="53.5" text-anchor="middle">4000</text>
<text transform="translate(415.1 1588.2)" font-size="53.5" text-anchor="middle">3500</text>
<text transform="translate(647.6 1588.2)" font-size="53.5" text-anchor="middle">3000</text>
<text transform="translate(880.1 1588.2)" font-size="53.5" text-anchor="middle">2500</text>
<text transform="translate(1112.6 1588.2)" font-size="53.5" text-anchor="middle">2000</text>
<text transform="translate(1345.1 1588.2)" font-size="53.5" text-anchor="middle">1500</text>
<text transform="translate(1577.6 1588.2)" font-size="53.5" text-anchor="middle">1000</text>
<text transform="translate(1810.1 1588.2)" font-size="53.5" text-anchor="middle">500</text>
<text transform="translate(766.5 1682.8) scale(1.0 1.04)" font-size="66.7">Wavenumber, cm<tspan x="514.7" y="-26.5" font-size="45">−1</tspan></text>
<text transform="translate(118.5 1124.5) rotate(-90) scale(1.0 1.04)" font-size="66.2">Transmittance, a.u.</text>
<text transform="translate(369.9 319) scale(1.2 1.0)" font-size="55" class="gr">ν</text>
<text transform="translate(413.9 318.6) scale(1.0 1.02)" font-size="54">(O-H)</text>
<text transform="translate(1175 315.9) scale(1.08 1.0)" font-size="54.3" class="gr">δ</text>
<text transform="translate(1217.7 316.4) scale(1.0 1.02)" font-size="54">(H-O-H)</text>
<text transform="translate(1668.9 328.1) scale(1.2 1.0)" font-size="53" class="gr">ν</text>
<text transform="translate(1713 328.3) scale(1.0 1.02)" font-size="54">(Sn-O)</text>
<text transform="translate(423.5 1489.4) rotate(-90)" font-size="54.5">3434</text>
<text transform="translate(1259.5 1406.6) rotate(-90)" font-size="54">1634</text>
</svg>
</body></html>
